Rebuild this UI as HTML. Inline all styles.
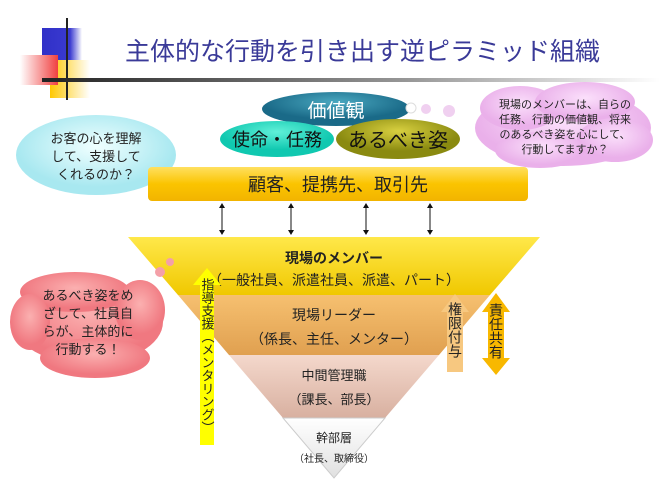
<!DOCTYPE html>
<html><head><meta charset="utf-8"><style>
body{margin:0;background:#fff;}
svg text{font-family:"Liberation Sans","Noto Sans CJK JP",sans-serif;}
</style></head><body>
<svg width="660" height="495" viewBox="0 0 660 495" xmlns="http://www.w3.org/2000/svg">
<defs>
<linearGradient id="line" x1="0" x2="1"><stop offset="0" stop-color="#222"/><stop offset="0.6" stop-color="#999"/><stop offset="1" stop-color="#fff"/></linearGradient>
<linearGradient id="blue" x1="0" x2="1"><stop offset="0" stop-color="#3030c8"/><stop offset="0.7" stop-color="#3a3ad0"/><stop offset="1" stop-color="#fff"/></linearGradient>
<linearGradient id="red" x1="1" x2="0"><stop offset="0" stop-color="#f04040"/><stop offset="1" stop-color="#fff"/></linearGradient>
<linearGradient id="yel" x1="0" x2="1"><stop offset="0" stop-color="#ffc800"/><stop offset="1" stop-color="#fff"/></linearGradient>
<linearGradient id="box" x1="0" y1="0" x2="0" y2="1"><stop offset="0" stop-color="#ffe060"/><stop offset="0.5" stop-color="#fbc400"/><stop offset="1" stop-color="#f2b400"/></linearGradient>
<linearGradient id="b1" x1="0" y1="0" x2="0" y2="1"><stop offset="0" stop-color="#ffe84a"/><stop offset="1" stop-color="#f0c800"/></linearGradient>
<linearGradient id="b2" x1="0" y1="0" x2="0" y2="1"><stop offset="0" stop-color="#f6c070"/><stop offset="1" stop-color="#e0a050"/></linearGradient>
<linearGradient id="b3" x1="0" y1="0" x2="0" y2="1"><stop offset="0" stop-color="#f4d8cc"/><stop offset="1" stop-color="#d8b0a0"/></linearGradient>
<linearGradient id="b4" x1="0" y1="0" x2="0" y2="1"><stop offset="0" stop-color="#fff"/><stop offset="1" stop-color="#e0e0e0"/></linearGradient>
<radialGradient id="teal" cx="0.5" cy="0.3"><stop offset="0" stop-color="#4aa8c0"/><stop offset="1" stop-color="#1a6a88"/></radialGradient>
<radialGradient id="cyan" cx="0.5" cy="0.3"><stop offset="0" stop-color="#60f0d8"/><stop offset="1" stop-color="#10c8b0"/></radialGradient>
<radialGradient id="olive" cx="0.5" cy="0.3"><stop offset="0" stop-color="#d8d040"/><stop offset="1" stop-color="#8a8a10"/></radialGradient>
<radialGradient id="lc" cx="0.5" cy="0.4"><stop offset="0" stop-color="#f0ffff"/><stop offset="1" stop-color="#a8e8f0"/></radialGradient>
<radialGradient id="pk" cx="0.5" cy="0.4"><stop offset="0" stop-color="#fbe0fb"/><stop offset="1" stop-color="#eab0ea"/></radialGradient>
<radialGradient id="rd" cx="0.5" cy="0.4"><stop offset="0" stop-color="#fbb0b0"/><stop offset="1" stop-color="#f07880"/></radialGradient>
</defs>
<rect x="42" y="28" width="40" height="38" fill="url(#blue)"/>
<rect x="50" y="60" width="40" height="38" fill="url(#yel)"/>
<rect x="20" y="55" width="38" height="30" fill="url(#red)"/>
<line x1="67" y1="18" x2="67" y2="100" stroke="#222" stroke-width="2"/>
<rect x="42" y="78" width="618" height="4" fill="url(#line)"/>
<text x="125" y="60" font-size="25" fill="#3a3a98">主体的な行動を引き出す逆ピラミッド組織</text>
<ellipse cx="336" cy="109" rx="74" ry="17" fill="url(#teal)"/>
<text x="336" y="117" font-size="19" fill="#fff" text-anchor="middle">価値観</text>
<circle cx="411" cy="108" r="5" fill="#fff" stroke="#ddd"/>
<circle cx="426" cy="109" r="5" fill="#f0d0f0"/>
<circle cx="449" cy="111" r="6" fill="#f0d0f0"/>
<ellipse cx="277" cy="139" rx="57" ry="18" fill="url(#cyan)"/>
<text x="277" y="146" font-size="18" fill="#111" text-anchor="middle">使命・任務</text>
<ellipse cx="398" cy="139" rx="62" ry="20" fill="url(#olive)"/>
<text x="398" y="147" font-size="20" fill="#111" text-anchor="middle">あるべき姿</text>
<path d="M150 170 L195 182 L140 180 Z" fill="#a8e8f0"/>
<ellipse cx="96" cy="155" rx="80" ry="40" fill="url(#lc)"/>
<text font-size="13" fill="#222" text-anchor="middle"><tspan x="96" y="143">お客の心を理解</tspan><tspan x="96" y="161">して、支援して</tspan><tspan x="96" y="179">くれるのか？</tspan></text>
<g fill="url(#pk)">
<ellipse cx="563" cy="128" rx="88" ry="38"/>
<ellipse cx="520" cy="108" rx="40" ry="22"/><ellipse cx="585" cy="102" rx="50" ry="20"/><ellipse cx="615" cy="140" rx="38" ry="22"/><ellipse cx="540" cy="150" rx="45" ry="18"/>
</g>
<text font-size="11" fill="#222" text-anchor="middle"><tspan x="565" y="108">現場のメンバーは、自らの</tspan><tspan x="565" y="123">任務、行動の価値観、将来</tspan><tspan x="565" y="138">のあるべき姿を心にして、</tspan><tspan x="565" y="153">行動してますか？</tspan></text>
<rect x="148" y="167" width="380" height="34" rx="4" fill="url(#box)"/>
<text x="338" y="191" font-size="18" fill="#222" text-anchor="middle">顧客、提携先、取引先</text>
<g stroke="#111" stroke-width="1">
<line x1="222" y1="206" x2="222" y2="232"/><line x1="291" y1="206" x2="291" y2="232"/><line x1="366" y1="206" x2="366" y2="232"/><line x1="430" y1="206" x2="430" y2="232"/>
</g>
<g fill="#111">
<path d="M219 208 L225 208 L222 203Z M219 230 L225 230 L222 235Z"/>
<path d="M288 208 L294 208 L291 203Z M288 230 L294 230 L291 235Z"/>
<path d="M363 208 L369 208 L366 203Z M363 230 L369 230 L366 235Z"/>
<path d="M427 208 L433 208 L430 203Z M427 230 L433 230 L430 235Z"/>
</g>
<path d="M128 237 L540 237 L490 295 L178 295Z" fill="url(#b1)"/>
<path d="M178 295 L490 295 L439 355 L229 355Z" fill="url(#b2)"/>
<path d="M229 355 L439 355 L385 418 L283 418Z" fill="url(#b3)"/>
<path d="M283 418 L385 418 L334 478Z" fill="url(#b4)" stroke="#ccc"/>
<text x="334" y="263" font-size="14" font-weight="bold" fill="#222" text-anchor="middle">現場のメンバー</text>
<text x="334" y="285" font-size="14" fill="#222" text-anchor="middle">（一般社員、派遣社員、派遣、パート）</text>
<text x="334" y="320" font-size="14" fill="#222" text-anchor="middle">現場リーダー</text>
<text x="334" y="344" font-size="14" fill="#222" text-anchor="middle">（係長、主任、メンター）</text>
<text x="334" y="380" font-size="13" fill="#222" text-anchor="middle">中間管理職</text>
<text x="334" y="404" font-size="13" fill="#222" text-anchor="middle">（課長、部長）</text>
<text x="334" y="442" font-size="12" fill="#222" text-anchor="middle">幹部層</text>
<text x="334" y="462" font-size="10" fill="#222" text-anchor="middle">（社長、取締役）</text>
<circle cx="170" cy="262" r="4" fill="#f4a0a8"/><circle cx="160" cy="272" r="5" fill="#f4a0a8"/>
<g fill="url(#rd)">
<ellipse cx="88" cy="322" rx="75" ry="42"/>
<ellipse cx="75" cy="292" rx="55" ry="20"/><ellipse cx="140" cy="310" rx="25" ry="30"/><ellipse cx="95" cy="358" rx="55" ry="20"/><ellipse cx="30" cy="322" rx="20" ry="28"/>
</g>
<text font-size="13" fill="#222" text-anchor="middle"><tspan x="88" y="300">あるべき姿をめ</tspan><tspan x="88" y="318">ざして、社員自</tspan><tspan x="88" y="336">らが、主体的に</tspan><tspan x="88" y="354">行動する！</tspan></text>
<path d="M200 445 L200 285 L193 285 L207 268 L221 285 L214 285 L214 445Z" fill="#ffff00"/>
<text font-size="13" fill="#222" text-anchor="middle" writing-mode="tb" x="207" y="356">指導支援（メンタリング）</text>
<path d="M447 372 L447 312 L441 312 L455 294 L469 312 L463 312 L463 372Z" fill="#f7c880"/>
<text font-size="14" fill="#222" text-anchor="middle" writing-mode="tb" x="455" y="330">権限付与</text>
<path d="M488 312 L482 312 L496 293 L510 312 L504 312 L504 358 L510 358 L496 375 L482 358 L488 358Z" fill="#f8b800"/>
<text font-size="14" fill="#222" text-anchor="middle" writing-mode="tb" x="496" y="331">責任共有</text>
</svg>
</body></html>
